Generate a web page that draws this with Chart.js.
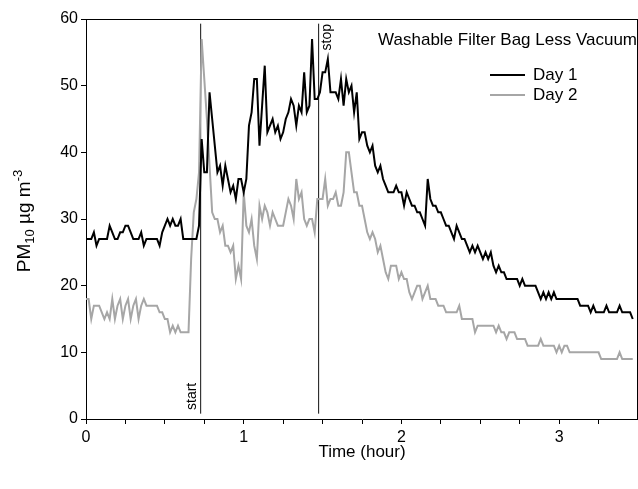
<!DOCTYPE html>
<html>
<head>
<meta charset="utf-8">
<script src="https://cdn.jsdelivr.net/npm/chart.js@4.4.1/dist/chart.umd.min.js"></script>
<style>
  html, body { margin: 0; padding: 0; background: #fff; overflow: hidden; }
  #wrap { width: 642px; height: 489px; }
</style>
</head>
<body>
<div id="wrap"><canvas id="pmChart"></canvas></div>
<script>
const FONT = "'Liberation Sans', Arial, sans-serif";

// Data (one sample per minute)
const SAMPLE_MINUTES = 1;
const day1Pm10 = [
  27, 27, 27, 28, 26, 27, 27, 27, 27, 29,
  28, 27, 27, 28, 28, 29, 29, 28, 27, 27,
  27, 28, 26, 27, 27, 27, 27, 27, 26, 28,
  29, 30, 29, 30, 29, 29, 30, 27, 27, 27,
  27, 27, 27, 29, 42, 37, 37, 49, 45, 41,
  37, 38, 35, 38, 36, 34, 35, 33, 36, 36,
  34, 36, 44, 46, 51, 51, 41, 47, 53, 43,
  44, 45, 43, 44, 42, 43, 45, 46, 48, 47,
  44, 47, 46, 52, 46, 47, 57, 48, 48, 49,
  52, 52, 54, 49, 49, 49, 48, 51, 47, 51,
  49, 50, 46, 49, 42, 43, 43, 41, 40, 41,
  38, 37, 38, 36, 35, 34, 34, 34, 35, 34,
  34, 32, 34, 33, 32, 32, 31, 31, 30, 29,
  36, 33, 32, 32, 31, 31, 30, 29, 29, 28,
  27, 29, 28, 27, 27, 26, 25, 26, 25, 26,
  25, 24, 25, 24, 25, 23, 22, 23, 22, 22,
  21, 21, 21, 21, 21, 20, 21, 20, 20, 20,
  20, 20, 19, 18, 19, 18, 19, 18, 19, 18,
  18, 18, 18, 18, 18, 18, 18, 18, 17, 17,
  17, 17, 16, 17, 16, 16, 16, 16, 17, 16,
  16, 16, 16, 17, 16, 16, 16, 16, 15
];
const day2Pm10 = [
  18, 18, 15, 17, 17, 17, 16, 15, 16, 15,
  18, 15, 17, 18, 15, 17, 18, 15, 17, 18,
  15, 17, 18, 17, 17, 17, 17, 17, 16, 16,
  15, 15, 13, 14, 13, 14, 13, 13, 13, 13,
  24, 31, 33, 37, 57, 51, 45, 38, 31, 30,
  30, 28, 29, 26, 26, 25, 26, 21, 23, 21,
  34, 29, 28, 30, 26, 24, 32, 30, 32, 31,
  29, 31, 30, 29, 29, 29, 31, 33, 32, 30,
  36, 33, 34, 30, 29, 30, 30, 28, 33, 33,
  33, 36, 32, 33, 33, 34, 32, 32, 34, 40,
  40, 37, 34, 34, 32, 32, 30, 28, 27, 28,
  27, 25, 26, 24, 22, 21, 23, 23, 23, 21,
  22, 21, 21, 19, 18, 19, 20, 20, 18, 19,
  20, 18, 18, 18, 17, 17, 17, 16, 16, 16,
  16, 16, 17, 15, 15, 15, 15, 15, 13, 14,
  14, 14, 14, 14, 14, 14, 13, 14, 13, 13,
  12, 13, 13, 13, 12, 12, 12, 12, 11, 11,
  11, 11, 11, 12, 11, 11, 11, 11, 11, 10,
  11, 10, 11, 11, 10, 10, 10, 10, 10, 10,
  10, 10, 10, 10, 10, 10, 9, 9, 9, 9,
  9, 9, 9, 10, 9, 9, 9, 9, 9
];
const seriesLabels = ['Day 1', 'Day 2'];
const seriesColors = ['#000000', '#a6a6a6'];

// Vacuum start / stop markers (hours) and their vertical extent
const markerTimes = [0.727, 1.475];
const markerLabels = ['start', 'stop'];
const markerSpan = [0.8, 59.3];

const chartTitle = 'Washable Filter Bag Less Vacuum';
const xTitle = 'Time (hour)';

function toPoints(values) {
  return values.map((v, i) => ({ x: i * SAMPLE_MINUTES / 60, y: v }));
}

// Draws frame, in-plot title, legend, y title and marker labels
const decorations = {
  id: 'decorations',
  afterDraw(chart) {
    const { ctx, chartArea: a, scales: { x } } = chart;
    ctx.save();
    ctx.strokeStyle = '#000';
    ctx.lineWidth = 1;
    ctx.beginPath();
    ctx.moveTo(a.left, a.top + 0.5); ctx.lineTo(a.right, a.top + 0.5);
    ctx.moveTo(a.right - 0.5, a.top); ctx.lineTo(a.right - 0.5, a.bottom);
    ctx.stroke();

    ctx.fillStyle = '#000';
    ctx.textBaseline = 'middle';
    ctx.font = `17px ${FONT}`;
    ctx.textAlign = 'right';
    ctx.fillText(chartTitle, 637, 40);

    // legend
    ctx.textAlign = 'left';
    seriesLabels.forEach((lab, i) => {
      const ly = 75 + i * 20;
      ctx.strokeStyle = seriesColors[i];
      ctx.lineWidth = 2;
      ctx.beginPath();
      ctx.moveTo(490, ly); ctx.lineTo(525, ly);
      ctx.stroke();
      ctx.fillText(lab, 533, ly);
    });

    // y axis title with sub/superscript
    ctx.save();
    ctx.translate(25, 221);
    ctx.rotate(-Math.PI / 2);
    const parts = [
      { t: 'PM', size: 19, dy: 0 },
      { t: '10', size: 13, dy: 5 },
      { t: ' \u00b5g m', size: 19, dy: 0 },
      { t: '-3', size: 13, dy: -7 }
    ];
    let total = 0;
    parts.forEach(p => { ctx.font = `${p.size}px ${FONT}`; p.w = ctx.measureText(p.t).width; total += p.w; });
    let cx = -total / 2;
    ctx.textAlign = 'left';
    parts.forEach(p => {
      ctx.font = `${p.size}px ${FONT}`;
      ctx.fillText(p.t, cx, p.dy);
      cx += p.w;
    });
    ctx.restore();

    // marker labels
    ctx.font = `14px ${FONT}`;
    markerTimes.forEach((t, i) => {
      const px = x.getPixelForValue(t);
      ctx.save();
      if (i === 0) {
        ctx.translate(px - 9, a.bottom - 9);
        ctx.rotate(-Math.PI / 2);
        ctx.textAlign = 'left';
      } else {
        ctx.translate(px + 9, a.top + 5);
        ctx.rotate(-Math.PI / 2);
        ctx.textAlign = 'right';
      }
      ctx.fillText(markerLabels[i], 0, 0);
      ctx.restore();
    });
    ctx.restore();
  }
};

const datasets = [day1Pm10, day2Pm10].map((vals, i) => ({
  label: seriesLabels[i],
  data: toPoints(vals),
  borderColor: seriesColors[i],
  borderWidth: 2,
  pointRadius: 0,
  tension: 0,
  fill: false
}));
markerTimes.forEach(t => {
  datasets.push({
    label: 'marker',
    data: markerSpan.map(v => ({ x: t, y: v })),
    borderColor: '#111',
    borderWidth: 1,
    pointRadius: 0,
    fill: false
  });
});

new Chart(document.getElementById('pmChart'), {
  type: 'line',
  data: { datasets },
  options: {
    responsive: true,
    maintainAspectRatio: false,
    animation: false,
    devicePixelRatio: 1,
    layout: { padding: { top: 19, right: 0, left: 0, bottom: 0 } },
    plugins: { legend: { display: false }, tooltip: { enabled: false } },
    scales: {
      x: {
        type: 'linear',
        min: 0,
        max: 3.5,
        afterFit: s => { s.height = 70; },
        ticks: {
          stepSize: 0.25,
          autoSkip: false,
          maxRotation: 0,
          padding: 4,
          color: '#000',
          font: { family: FONT, size: 16 },
          callback: v => Number.isInteger(v) ? v : ''
        },
        grid: { drawOnChartArea: false, tickLength: 5, color: '#000' },
        border: { color: '#000', width: 1 },
        title: {
          display: true,
          text: xTitle,
          color: '#000',
          font: { family: FONT, size: 17 },
          padding: { top: 4, bottom: 26 }
        }
      },
      y: {
        min: 0,
        max: 60,
        afterFit: s => { s.width = 86; },
        ticks: {
          stepSize: 10,
          padding: 3,
          color: '#000',
          font: { family: FONT, size: 16 }
        },
        grid: { drawOnChartArea: false, tickLength: 5, color: '#000' },
        border: { color: '#000', width: 1 }
      }
    }
  },
  plugins: [decorations]
});
</script>
</body>
</html>
